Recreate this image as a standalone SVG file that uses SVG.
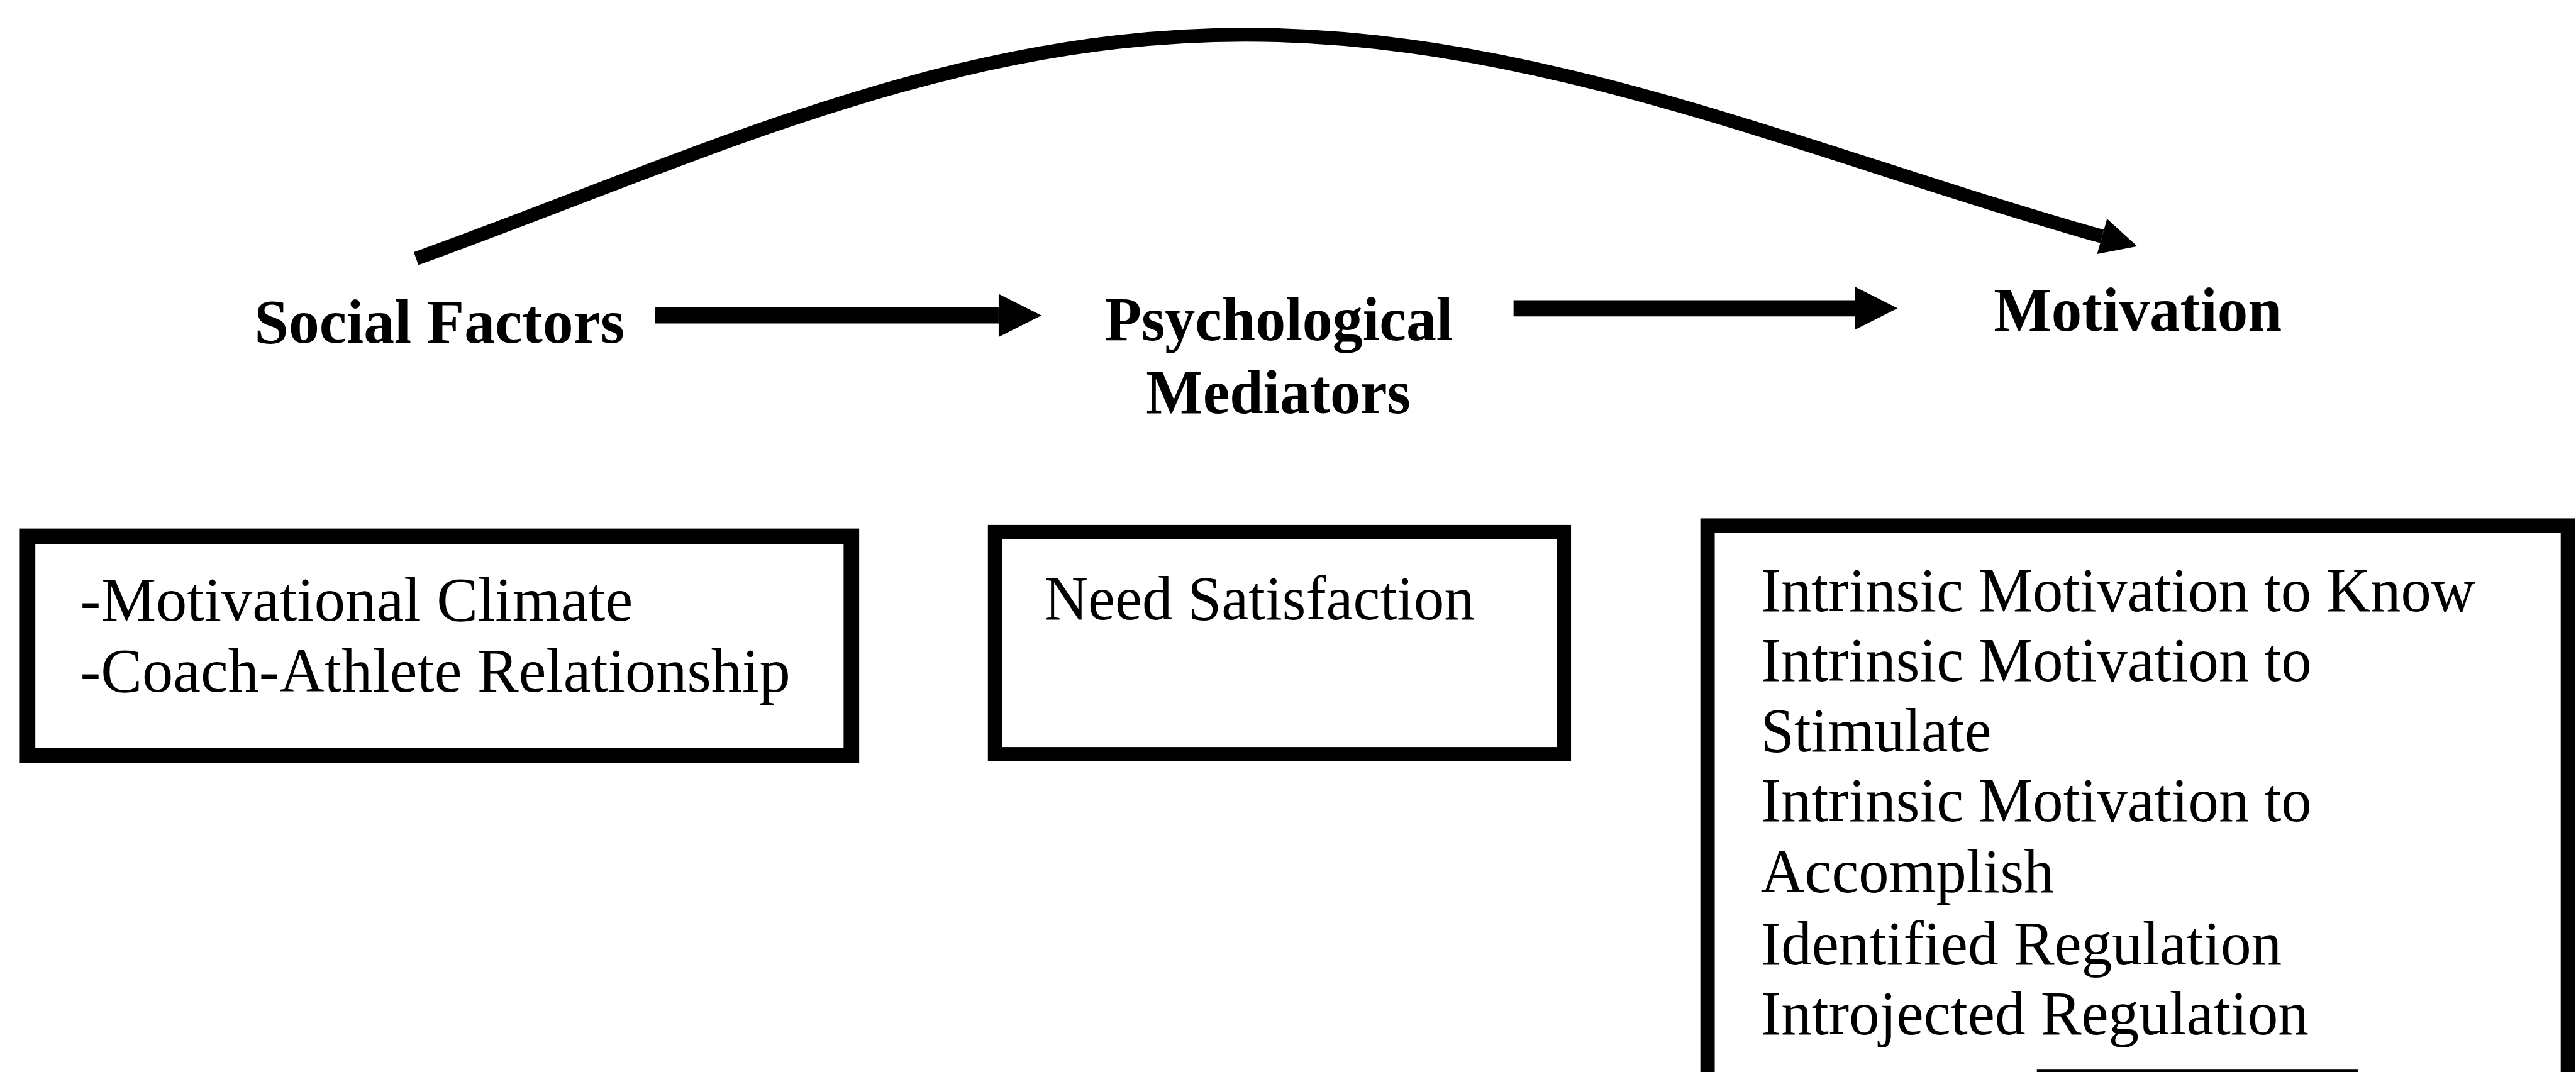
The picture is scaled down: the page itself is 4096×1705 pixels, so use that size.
<svg xmlns="http://www.w3.org/2000/svg" width="4096" height="1705" viewBox="0 0 4096 1705">
<style>
.hdr{font-family:"Liberation Serif","Times New Roman",serif;font-weight:bold;font-size:104px;fill:#000}
.txt{font-family:"Liberation Serif","Times New Roman",serif;font-size:104px;fill:#000}
.box{fill:#fff;stroke:#000}
.conn{fill:none;stroke:#000;stroke-linecap:butt}
</style>
<defs>
<marker id="ah" markerUnits="strokeWidth" markerWidth="2.65" markerHeight="2.66" refX="0" refY="1.33" orient="auto" overflow="visible">
<path d="M0,0 L2.65,1.33 L0,2.66 Z" fill="#000"/>
</marker>
</defs>
<rect width="4096" height="1705" fill="#fff"/>
<g transform="scale(0.952)">
<g id="connectors">
<path class="conn" stroke-width="23" d="M695,432 C1165,262 1580,58 2080,58 C2580,58 3030,260 3511,395" marker-end="url(#ah)"/>
<line class="conn" stroke-width="27" x1="1094" y1="527" x2="1668" y2="527" marker-end="url(#ah)"/>
<line class="conn" stroke-width="27" x1="2528" y1="515" x2="3098" y2="515" marker-end="url(#ah)"/>
</g>
<g id="social-factors">
<text class="hdr" x="425" y="573" textLength="618" lengthAdjust="spacingAndGlyphs">Social Factors</text>
</g>
<g id="psychological-mediators">
<text class="hdr" x="1845" y="568" textLength="582" lengthAdjust="spacingAndGlyphs">Psychological</text>
<text class="hdr" x="1914" y="690" textLength="442" lengthAdjust="spacingAndGlyphs">Mediators</text>
</g>
<g id="motivation">
<text class="hdr" x="3330" y="553" textLength="481" lengthAdjust="spacingAndGlyphs">Motivation</text>
</g>
<g id="social-box">
<rect class="box" stroke-width="26" x="46" y="896" width="1376" height="366"/>
<text class="txt" x="134" y="1037" textLength="923" lengthAdjust="spacingAndGlyphs">-Motivational Climate</text>
<text class="txt" x="134" y="1155" textLength="1186" lengthAdjust="spacingAndGlyphs">-Coach-Athlete Relationship</text>
</g>
<g id="mediators-box">
<rect class="box" stroke-width="24" x="1662" y="889" width="950" height="371"/>
<text class="txt" x="1744" y="1035" textLength="719" lengthAdjust="spacingAndGlyphs">Need Satisfaction</text>
</g>
<g id="motivation-box">
<rect class="box" stroke-width="24" x="2852" y="878" width="1437" height="940"/>
<rect x="3402" y="1787" width="536" height="6" fill="#000"/>
<text class="txt" x="2941" y="1021" textLength="1193" lengthAdjust="spacingAndGlyphs">Intrinsic Motivation to Know</text>
<text class="txt" x="2941" y="1138" textLength="920" lengthAdjust="spacingAndGlyphs">Intrinsic Motivation to</text>
<text class="txt" x="2941" y="1255" textLength="385" lengthAdjust="spacingAndGlyphs">Stimulate</text>
<text class="txt" x="2941" y="1372" textLength="920" lengthAdjust="spacingAndGlyphs">Intrinsic Motivation to</text>
<text class="txt" x="2941" y="1491" textLength="490" lengthAdjust="spacingAndGlyphs">Accomplish</text>
<text class="txt" x="2941" y="1611" textLength="870" lengthAdjust="spacingAndGlyphs">Identified Regulation</text>
<text class="txt" x="2941" y="1728" textLength="915" lengthAdjust="spacingAndGlyphs">Introjected Regulation</text>
</g>
</g>
</svg>
